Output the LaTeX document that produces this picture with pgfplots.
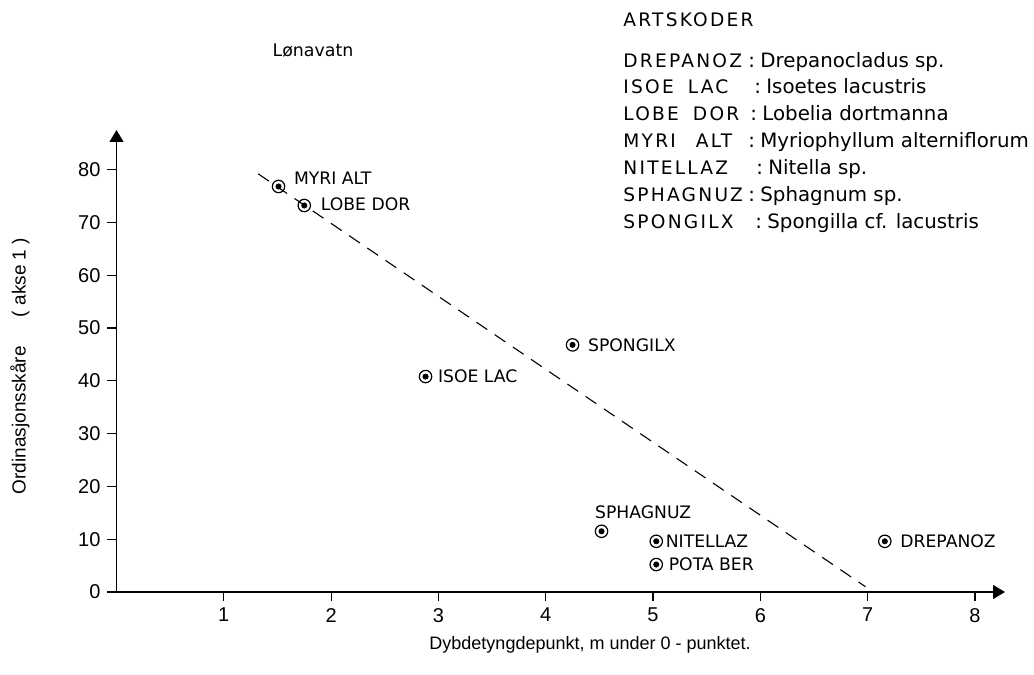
\documentclass[border=0pt]{standalone}
\usepackage{fontspec}
\setmainfont{DejaVu Sans}
\newfontfamily\arial{Liberation Sans}
\newfontfamily\spaced[LetterSpace=12]{DejaVu Sans}
\usepackage{pgfplots}
\usepackage{pgfplotstable}
\pgfplotsset{compat=1.18}
\usetikzlibrary{arrows.meta}

% species scores: x = depth centre, y = ordination score (axis 1)
\pgfplotstableread[col sep=comma]{
x,y,label,dx,dy
1.51,76.8,MYRI ALT,7.5,4
1.75,73.2,LOBE DOR,8,0.5
2.88,40.8,ISOE LAC,6,0
4.25,46.8,SPONGILX,7.5,0
4.52,11.5,SPHAGNUZ,-3.5,9.5
5.03,9.6,NITELLAZ,4.5,0
5.03,5.2,POTA BER,6,0
7.16,9.6,DREPANOZ,7.5,0
}\arter

% #1 baseline, #2 code, #3 colon x, #4 name x, #5 name
\newcommand\kode[5]{%
  \node[anchor=base west, inner sep=0pt, font=\spaced\fontsize{9.3}{11}\selectfont] at (311.5pt,#1pt) {#2};
  \node[anchor=base west, inner sep=0pt, font=\fontsize{9.9}{11}\selectfont] at (#3pt,#1pt) {:};
  \node[anchor=base west, inner sep=0pt, font=\fontsize{9.9}{11}\selectfont] at (#4pt,#1pt) {#5};}

\begin{document}
\begin{tikzpicture}
\useasboundingbox (0,0) rectangle (517pt,337.5pt);
\begin{axis}[
  at={(58.25pt,41.5pt)}, anchor=south west,
  scale only axis, width=444.25pt, height=231pt,
  xmin=0, xmax=8.28, ymin=0, ymax=87.5,
  axis x line=bottom, axis y line=left,
  axis line style={line width=0.7pt, -{Triangle[length=6pt,width=7pt]}},
  xtick={1,...,8}, ytick={0,10,...,80},
  tick align=outside, major tick length=4.5pt,
  tick style={line width=0.6pt, black},
  /pgf/number format/assume math mode=true,
  tick label style={font=\arial\fontsize{10}{12}\selectfont},
  clip=false,
  xlabel={Dybdetyngdepunkt, m under 0 - punktet.},
  ylabel={Ordinasjonsskåre\hspace{12pt} ( akse 1 )},
  x label style={at={(axis description cs:0.533,0)}, anchor=center, yshift=-26.5pt,
    font=\arial\fontsize{9}{11}\selectfont},
  y label style={at={(axis description cs:-0.1086,0.489)}, anchor=center,
    font=\arial\fontsize{9.5}{11}\selectfont},
]
\addplot[black, line width=0.55pt, dash pattern=on 6.5pt off 4.5pt]
  coordinates {(1.32,79.2) (6.98,1.0)};
\addplot[only marks, mark=o, mark size=3.1pt, mark options={line width=0.6pt, black},
  nodes near coords, point meta=explicit symbolic,
  visualization depends on={\thisrow{dx}\as\dx},
  visualization depends on={\thisrow{dy}\as\dy},
  every node near coord/.append style={anchor=west, inner sep=0pt,
    xshift=\dx pt, yshift=\dy pt, font=\fontsize{8.6}{10}\selectfont, text=black}]
  table[x=x, y=y, meta=label] {\arter};
\addplot[only marks, mark=*, mark size=1.3pt, black] table[x=x, y=y] {\arter};
\end{axis}

\node[font=\fontsize{8.7}{10}\selectfont] at (156.5pt,312pt) {Lønavatn};
\node[anchor=base west, inner sep=0pt, font=\spaced\fontsize{9.3}{11}\selectfont] at (311.5pt,324.1pt) {ARTSKODER};
\kode{303.6}{DREPANOZ}{374}{380}{Drepanocladus sp.}
\kode{290.6}{ISOE\hspace{7pt}LAC}{377}{383}{Isoetes lacustris}
\kode{277.1}{LOBE\hspace{7pt}DOR}{375}{381}{Lobelia dortmanna}
\kode{263.6}{MYRI\hspace{10pt}ALT}{374}{380}{Myriophyllum alterniflorum}
\kode{250.1}{NITELLAZ}{378}{384}{Nitella sp.}
\kode{236.6}{SPHAGNUZ}{374}{380}{Sphagnum sp.}
\kode{223.1}{SPONGILX}{377.5}{383.5}{Spongilla cf. lacustris}
\end{tikzpicture}
\end{document}
